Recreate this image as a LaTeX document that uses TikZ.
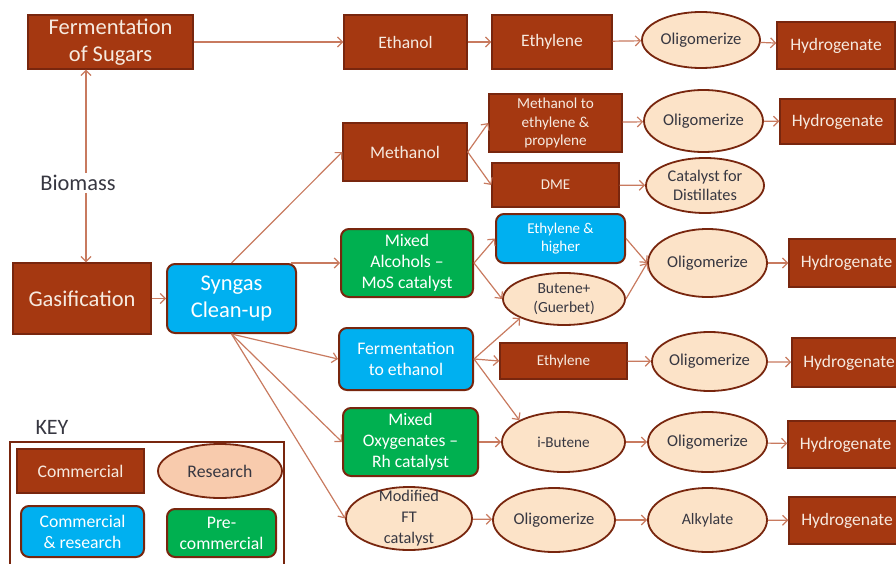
\documentclass[tikz,border=0pt]{standalone}
\usepackage{fontspec}
\setmainfont{Carlito}
\usetikzlibrary{arrows.meta,shapes.geometric}
\definecolor{brn}{RGB}{165,56,17}
\definecolor{brnd}{RGB}{120,38,14}
\definecolor{txtl}{RGB}{246,234,224}
\definecolor{peach}{RGB}{252,227,200}
\definecolor{pinkr}{RGB}{248,203,173}
\definecolor{dgray}{RGB}{55,55,65}
\definecolor{sky}{RGB}{0,176,240}
\definecolor{grn}{RGB}{0,176,80}
\definecolor{arrc}{RGB}{200,122,95}
\newcommand\fsz[1]{\fontsize{#1}{\dimexpr #1pt*6/5\relax}\selectfont}
\tikzset{
  com/.style={rectangle, draw=brnd, line width=1.4pt, fill=brn, text=txtl, align=center, inner sep=0pt},
  res/.style={ellipse, draw=brnd, line width=1.8pt, fill=peach, text=dgray, align=center, inner sep=0pt},
  crs/.style={rectangle, rounded corners=8pt, draw=brnd, line width=2pt, fill=sky, text=white, align=center, inner sep=0pt},
  prc/.style={rectangle, rounded corners=8pt, draw=brnd, line width=2pt, fill=grn, text=white, align=center, inner sep=0pt},
  arr/.style={draw=arrc, line width=1.2pt, -{Straight Barb[length=5pt,width=10pt]}},
  sz/.style 2 args={minimum width=#1pt, minimum height=#2pt},
}
\begin{document}
\begin{tikzpicture}[x=1pt,y=-1pt]
\useasboundingbox (0,0) rectangle (896,564);
% left part
\node[com, sz={165}{54}, font=\fsz{22.5}] (fs) at (110.5,42) {Fermentation\\of Sugars};
\node[text=dgray, font=\fsz{22.4}, inner sep=2pt] (bio) at (78,183) {Biomass};
\node[com, sz={138}{71}, font=\fsz{22.5}] (gas) at (82,298.5) {Gasification};
\node[crs, sz={129}{69}, font=\fsz{22.5}] (sg) at (231.5,298.5) {Syngas\\Clean-up};
% top row
\node[com, sz={123}{54}, font=\fsz{17.5}] (eth) at (405.5,42) {Ethanol};
\node[com, sz={120}{54}, font=\fsz{17.5}] (ety1) at (552,42) {Ethylene};
\node[res, sz={118}{56}, font=\fsz{16.6}] (o1) at (701,40) {Oligomerize};
\node[com, sz={118}{47}, font=\fsz{17.5}] (h1) at (836,45.5) {Hydrogenate};
% methanol
\node[com, sz={124}{58}, font=\fsz{17.6}] (meth) at (405,152) {Methanol};
\node[com, sz={133}{58}, font=\fsz{15.2}] (mto) at (555.5,123) {Methanol to\\ethylene \&\\propylene};
\node[com, sz={127}{44}, font=\fsz{15}] (dme) at (555.5,185) {DME};
\node[res, sz={119}{62}, font=\fsz{16.6}] (o2) at (703.5,121) {Oligomerize};
\node[com, sz={115}{45}, font=\fsz{17.5}] (h2) at (837.5,121.5) {Hydrogenate};
\node[res, sz={118}{55}, font=\fsz{16.3}] (cat) at (705,185.5) {Catalyst for\\Distillates};
% mixed alcohols
\node[prc, sz={132}{68}, font=\fsz{17.7}] (ma) at (407,263) {Mixed\\Alcohols –\\MoS catalyst};
\node[crs, sz={129}{49}, font=\fsz{15}] (eh) at (560.5,238.5) {Ethylene \&\\higher};
\node[res, sz={122}{52}, font=\fsz{15.5}] (but) at (564,299) {Butene+\\(Guerbet)};
\node[res, sz={119}{68}, font=\fsz{16.6}] (o3) at (707.5,263) {Oligomerize};
\node[com, sz={115}{48}, font=\fsz{17.5}] (h3) at (846.5,263) {Hydrogenate};
% fermentation to ethanol
\node[crs, sz={134}{62}, font=\fsz{17.7}] (fe) at (406,359) {Fermentation\\to ethanol};
\node[com, sz={127}{36}, font=\fsz{15.1}] (em) at (563.5,361) {Ethylene};
\node[res, sz={115}{59}, font=\fsz{16.6}] (o4) at (709.5,361.5) {Oligomerize};
\node[com, sz={114}{49}, font=\fsz{17.5}] (h4) at (849,362.5) {Hydrogenate};
% mixed oxygenates
\node[prc, sz={135}{68}, font=\fsz{17.6}] (mo) at (410.5,442) {Mixed\\Oxygenates –\\Rh catalyst};
\node[res, sz={123}{60}, font=\fsz{15.2}] (ib) at (563.5,442) {i-Butene};
\node[res, sz={119}{60}, font=\fsz{16.6}] (o5) at (707.5,442) {Oligomerize};
\node[com, sz={115}{47}, font=\fsz{17.5}] (h5) at (845.5,444.5) {Hydrogenate};
% modified FT
\node[res, sz={126}{63}] (ft) at (409,518.5) {};
\node[text=dgray, align=center, inner sep=0pt, font={\fontsize{16.3}{21}\selectfont}] (ftt) at (ft.center) {Modified\\FT\\catalyst};
\node[res, sz={122}{64}, font=\fsz{16.6}] (o6) at (554,520) {Oligomerize};
\node[res, sz={119}{64}, font=\fsz{15.9}] (alk) at (707.5,520) {Alkylate};
\node[com, sz={116}{47}, font=\fsz{17.5}] (h6) at (847,520.5) {Hydrogenate};
% key
\node[text=dgray, font=\fsz{22}, inner sep=0pt] (key) at (52,427) {KEY};
\draw[brnd, line width=1.8pt] (10,570) -- (10,442) -- (284,442) -- (284,570);
\node[com, sz={127}{44}, font=\fsz{17.7}] (kc) at (80.5,471) {Commercial};
\node[res, fill=pinkr, sz={124}{54}, font=\fsz{17.7}] (kr) at (220,471) {Research};
\node[crs, sz={123}{51}, font={\fontsize{17.7}{21}\selectfont}] (kcr) at (82.5,531.5) {Commercial\\\& research};
\node[prc, sz={109}{48}, font={\fontsize{17.7}{21}\selectfont}] (kp) at (221.5,533) {Pre-\\commercial};
% connectors
\draw[arr] (fs.east) -- (eth.west);
\draw[arr] (eth) -- (ety1);
\draw[arr] (ety1) -- (o1);
\draw[arr] (o1) -- (h1);
\draw[arr] ([xshift=8pt]bio.north) -- ([xshift=-24.5pt]fs.south);
\draw[arr] ([xshift=8pt]bio.south) -- ([xshift=4pt]gas.north);
\draw[arr] (gas) -- (sg);
\draw[arr] (sg.north) -- (meth.west);
\draw[arr] ([xshift=-6pt]sg.north east) -- (ma.west);
\draw[arr] (sg.south) -- (fe.west);
\draw[arr] (sg.south) -- (mo.west);
\draw[arr] (sg.south) -- (ft.west);
\draw[arr] (meth.east) -- (mto.west);
\draw[arr] (meth.east) -- (dme.west);
\draw[arr] (mto) -- (o2);
\draw[arr] (o2) -- (h2);
\draw[arr] (dme) -- (cat);
\draw[arr] (ma.east) -- (eh.west);
\draw[arr] (ma.east) -- (but.west);
\draw[arr] (fe.east) -- (but.south west);
\draw[arr] (fe.east) -- (em.west);
\draw[arr] (fe.east) -- (ib.north west);
\draw[arr] (eh.east) -- (o3.west);
\draw[arr] (but.east) -- (o3.west);
\draw[arr] (o3) -- (h3);
\draw[arr] (em) -- (o4);
\draw[arr] (o4) -- (h4);
\draw[arr] (mo) -- (ib);
\draw[arr] (ib) -- (o5);
\draw[arr] (o5) -- (h5);
\draw[arr] (ft) -- (o6);
\draw[arr] (o6) -- (alk);
\draw[arr] (alk) -- (h6);
\end{tikzpicture}
\end{document}
